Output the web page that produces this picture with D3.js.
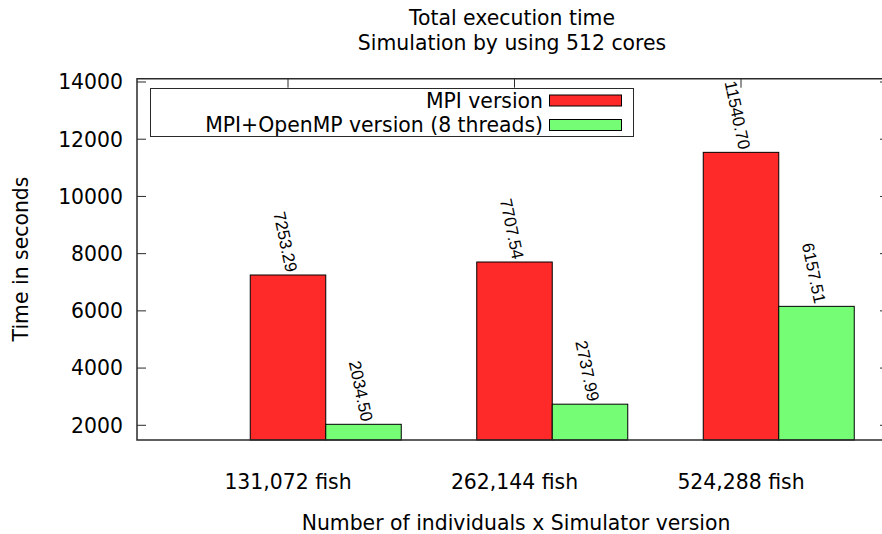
<!DOCTYPE html>
<html>
<head>
<meta charset="utf-8">
<script src="https://cdn.jsdelivr.net/npm/d3@7"></script>
<style>
  html, body { margin: 0; padding: 0; background: #fff; }
  svg text { font-family: "DejaVu Sans", sans-serif; fill: #000; }
</style>
</head>
<body>
<svg id="chart" width="882" height="534"></svg>
<script>
// Categories and series
const categories = ["131,072 fish", "262,144 fish", "524,288 fish"];
const seriesNames = ["MPI version", "MPI+OpenMP version (8 threads)"];
const mpiTimes = [7253.29, 7707.54, 11540.70];
const hybridTimes = [2034.50, 2737.99, 6157.51];
const seriesColors = ["#fe2929", "#75fe75"];
const yTicks = [2000, 4000, 6000, 8000, 10000, 12000, 14000];
const titleLines = ["Total execution time", "Simulation by using 512 cores"];
const xTitle = "Number of individuals x Simulator version";
const yTitle = "Time in seconds";

const svg = d3.select("#chart");
const fontSize = 20.4;

// Plot frame
const plotLeft = 137, plotRight = 889, plotTop = 78.7, plotBottom = 440;

const y = d3.scaleLinear().domain([1486, 14115]).range([plotBottom, plotTop]);

// Group bands (the cluster layout continues past the right edge of the frame)
const x0 = d3.scaleBand()
  .domain(categories)
  .range([plotLeft, plotLeft + 226.5 * (3 - 1 / 3 + 1)])
  .paddingInner(1 / 3)
  .paddingOuter(0.5);
const x1 = d3.scaleBand().domain([0, 1]).range([0, x0.bandwidth()]);

const rows = categories.map((c, i) => ({ cat: c, vals: [mpiTimes[i], hybridTimes[i]] }));

// Category ticks sit at the centre of the first bar in each group
const tickX = c => x0(c) + x1(0) + x1.bandwidth() / 2;

const axisColor = "#2a2a2a";
const tickLen = 9;

// Y ticks on both sides
const yt = svg.append("g");
yTicks.forEach(t => {
  yt.append("line").attr("x1", plotLeft).attr("x2", plotLeft + tickLen)
    .attr("y1", y(t)).attr("y2", y(t)).attr("stroke", axisColor).attr("stroke-width", 1);
  yt.append("line").attr("x1", plotRight).attr("x2", plotRight - tickLen)
    .attr("y1", y(t)).attr("y2", y(t)).attr("stroke", axisColor).attr("stroke-width", 1);
  yt.append("text").attr("x", 123).attr("y", y(t)).attr("dy", "0.36em")
    .attr("text-anchor", "end").attr("font-size", fontSize).text(t);
});

// X ticks and category labels
categories.forEach(c => {
  svg.append("line").attr("x1", tickX(c)).attr("x2", tickX(c))
    .attr("y1", plotTop).attr("y2", plotTop + tickLen).attr("stroke", axisColor).attr("stroke-width", 1);
  svg.append("line").attr("x1", tickX(c)).attr("x2", tickX(c))
    .attr("y1", plotBottom).attr("y2", plotBottom - tickLen).attr("stroke", axisColor).attr("stroke-width", 1);
  svg.append("text").attr("x", tickX(c)).attr("y", 489)
    .attr("text-anchor", "middle").attr("font-size", fontSize).text(c);
});

// Bars
const groups = svg.append("g").selectAll("g").data(rows).join("g")
  .attr("transform", d => `translate(${x0(d.cat)},0)`);

groups.selectAll("rect").data(d => d.vals).join("rect")
  .attr("x", (d, i) => x1(i))
  .attr("y", d => y(d))
  .attr("width", x1.bandwidth())
  .attr("height", d => plotBottom - y(d))
  .attr("fill", (d, i) => seriesColors[i])
  .attr("stroke", "#000")
  .attr("stroke-width", 1);

// Rotated value labels above each bar
groups.selectAll("text.val").data(d => d.vals).join("text")
  .attr("class", "val")
  .attr("transform", (d, i) => `translate(${x1(i) + x1.bandwidth() / 2 - 2},${y(d) - 2}) rotate(78)`)
  .attr("text-anchor", "end")
  .style("font-family", "'Liberation Sans', Arial, sans-serif")
  .attr("font-size", 17)
  .text(d => d.toFixed(2));

// Frame
svg.append("path")
  .attr("d", `M${plotLeft},${plotTop}H${plotRight}V${plotBottom}H${plotLeft}Z`)
  .attr("fill", "none").attr("stroke", axisColor).attr("stroke-width", 1.5);

// Legend
const legend = svg.append("g");
legend.append("rect").attr("x", 150.5).attr("y", 88.5).attr("width", 483).attr("height", 48)
  .attr("fill", "#fff").attr("stroke", axisColor).attr("stroke-width", 1);
seriesNames.forEach((s, i) => {
  const cy = 100.5 + i * 24.5;
  legend.append("text").attr("x", 543).attr("y", cy).attr("dy", "0.36em")
    .attr("text-anchor", "end").attr("font-size", fontSize).text(s);
  legend.append("rect").attr("x", 549.5).attr("y", cy - 5.5).attr("width", 72).attr("height", 11)
    .attr("fill", seriesColors[i]).attr("stroke", "#000").attr("stroke-width", 1);
});

// Titles
titleLines.forEach((t, i) => {
  svg.append("text").attr("x", 512).attr("y", 25 + i * 25)
    .attr("text-anchor", "middle").attr("font-size", fontSize).text(t);
});
svg.append("text").attr("x", 516).attr("y", 530)
  .attr("text-anchor", "middle").attr("font-size", fontSize).text(xTitle);
svg.append("text").attr("transform", `translate(28,259) rotate(-90)`)
  .attr("text-anchor", "middle").attr("font-size", fontSize).text(yTitle);
</script>
</body>
</html>
